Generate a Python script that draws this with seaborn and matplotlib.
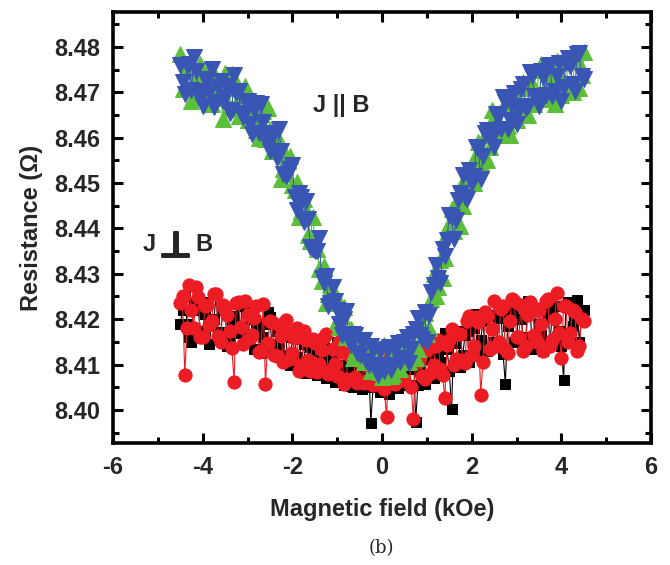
import matplotlib
matplotlib.use("Agg")
import matplotlib.pyplot as plt
import matplotlib.patheffects as pe
import seaborn as sns
import pandas as pd
from matplotlib.ticker import MultipleLocator, FormatStrFormatter

# Field grids (kOe)
field_a = [-4.5, -4.4, -4.3, -4.2, -4.1, -4.0, -3.9, -3.8, -3.7, -3.6,
           -3.5, -3.4, -3.3, -3.2, -3.1, -3.0, -2.9, -2.8, -2.7, -2.6,
           -2.5, -2.4, -2.3, -2.2, -2.1, -2.0, -1.9, -1.8, -1.7, -1.6,
           -1.5, -1.4, -1.3, -1.2, -1.1, -1.0, -0.9, -0.8, -0.7, -0.6,
           -0.5, -0.4, -0.3, -0.2, -0.1, 0.0, 0.1, 0.2, 0.3, 0.4,
           0.5, 0.6, 0.7, 0.8, 0.9, 1.0, 1.1, 1.2, 1.3, 1.4,
           1.5, 1.6, 1.7, 1.8, 1.9, 2.0, 2.1, 2.2, 2.3, 2.4,
           2.5, 2.6, 2.7, 2.8, 2.9, 3.0, 3.1, 3.2, 3.3, 3.4,
           3.5, 3.6, 3.7, 3.8, 3.9, 4.0, 4.1, 4.2, 4.3, 4.4, 4.5]
field_b = [-4.45, -4.35, -4.25, -4.15, -4.05, -3.95, -3.85, -3.75, -3.65, -3.55,
           -3.45, -3.35, -3.25, -3.15, -3.05, -2.95, -2.85, -2.75, -2.65, -2.55,
           -2.45, -2.35, -2.25, -2.15, -2.05, -1.95, -1.85, -1.75, -1.65, -1.55,
           -1.45, -1.35, -1.25, -1.15, -1.05, -0.95, -0.85, -0.75, -0.65, -0.55,
           -0.45, -0.35, -0.25, -0.15, -0.05, 0.05, 0.15, 0.25, 0.35, 0.45,
           0.55, 0.65, 0.75, 0.85, 0.95, 1.05, 1.15, 1.25, 1.35, 1.45,
           1.55, 1.65, 1.75, 1.85, 1.95, 2.05, 2.15, 2.25, 2.35, 2.45,
           2.55, 2.65, 2.75, 2.85, 2.95, 3.05, 3.15, 3.25, 3.35, 3.45,
           3.55, 3.65, 3.75, 3.85, 3.95, 4.05, 4.15, 4.25, 4.35, 4.45]

# J || B, green (up triangles): sweep 1 on field_a, sweep 2 on field_b
green_up = [8.4785, 8.4712, 8.4758, 8.4690, 8.4745, 8.4702, 8.4738, 8.4675, 8.4730, 8.4688,
            8.4742, 8.4665, 8.4710, 8.4648, 8.4695, 8.4640, 8.4672, 8.4618, 8.4652, 8.4598,
            8.4618, 8.4578, 8.4595, 8.4530, 8.4548, 8.4495, 8.4502, 8.4438, 8.4440, 8.4372,
            8.4378, 8.4310, 8.4318, 8.4255, 8.4262, 8.4195, 8.4208, 8.4160, 8.4178, 8.4130,
            8.4148, 8.4105, 8.4135, 8.4088, 8.4115, 8.4072, 8.4110, 8.4075, 8.4125, 8.4090,
            8.4138, 8.4105, 8.4152, 8.4135, 8.4190, 8.4168, 8.4245, 8.4250, 8.4330, 8.4335,
            8.4410, 8.4395, 8.4465, 8.4450, 8.4512, 8.4505, 8.4562, 8.4545, 8.4605, 8.4580,
            8.4645, 8.4605, 8.4668, 8.4625, 8.4688, 8.4640, 8.4710, 8.4655, 8.4728, 8.4675,
            8.4750, 8.4685, 8.4752, 8.4692, 8.4768, 8.4695, 8.4772, 8.4700, 8.4785, 8.4710, 8.4790]
green_down = [8.4708, 8.4754, 8.4680, 8.4736, 8.4762, 8.4698, 8.4674, 8.4740, 8.4706, 8.4642,
              8.4717, 8.4741, 8.4675, 8.4649, 8.4713, 8.4644, 8.4662, 8.4600, 8.4658, 8.4666,
              8.4570, 8.4580, 8.4510, 8.4560, 8.4560, 8.4485, 8.4425, 8.4465, 8.4385, 8.4425,
              8.4355, 8.4285, 8.4235, 8.4275, 8.4255, 8.4182, 8.4226, 8.4160, 8.4114, 8.4158,
              8.4127, 8.4151, 8.4085, 8.4119, 8.4083, 8.4142, 8.4096, 8.4080, 8.4134, 8.4118,
              8.4157, 8.4121, 8.4115, 8.4179, 8.4213, 8.4180, 8.4300, 8.4270, 8.4290, 8.4390,
              8.4443, 8.4419, 8.4405, 8.4511, 8.4517, 8.4500, 8.4590, 8.4550, 8.4550, 8.4660,
              8.4635, 8.4605, 8.4665, 8.4605, 8.4695, 8.4664, 8.4722, 8.4650, 8.4718, 8.4686,
              8.4762, 8.4686, 8.4730, 8.4674, 8.4748, 8.4772, 8.4716, 8.4700, 8.4774, 8.4738]

# J || B, blue (down triangles): sweep 1 on field_b, sweep 2 on field_a
blue_up = [8.4722, 8.4760, 8.4705, 8.4748, 8.4685, 8.4730, 8.4700, 8.4668, 8.4712, 8.4680,
           8.4715, 8.4662, 8.4698, 8.4655, 8.4680, 8.4630, 8.4660, 8.4610, 8.4635, 8.4585,
           8.4605, 8.4555, 8.4570, 8.4515, 8.4530, 8.4470, 8.4478, 8.4415, 8.4420, 8.4355,
           8.4350, 8.4290, 8.4295, 8.4235, 8.4240, 8.4190, 8.4200, 8.4158, 8.4168, 8.4125,
           8.4150, 8.4108, 8.4140, 8.4095, 8.4130, 8.4085, 8.4138, 8.4100, 8.4148, 8.4115,
           8.4160, 8.4135, 8.4178, 8.4165, 8.4215, 8.4210, 8.4275, 8.4290, 8.4355, 8.4375,
           8.4425, 8.4418, 8.4478, 8.4470, 8.4528, 8.4515, 8.4575, 8.4560, 8.4618, 8.4600,
           8.4652, 8.4620, 8.4678, 8.4640, 8.4698, 8.4662, 8.4718, 8.4670, 8.4735, 8.4685,
           8.4748, 8.4695, 8.4760, 8.4702, 8.4765, 8.4712, 8.4775, 8.4718, 8.4785, 8.4735]
blue_down = [8.4760, 8.4696, 8.4762, 8.4778, 8.4704, 8.4670, 8.4726, 8.4752, 8.4678, 8.4724,
             8.4690, 8.4654, 8.4738, 8.4702, 8.4646, 8.4680, 8.4608, 8.4676, 8.4674, 8.4602,
             8.4570, 8.4610, 8.4620, 8.4520, 8.4520, 8.4540, 8.4440, 8.4470, 8.4460, 8.4360,
             8.4350, 8.4380, 8.4280, 8.4230, 8.4270, 8.4220, 8.4164, 8.4218, 8.4142, 8.4166,
             8.4120, 8.4154, 8.4098, 8.4132, 8.4076, 8.4100, 8.4134, 8.4088, 8.4132, 8.4106,
             8.4150, 8.4104, 8.4168, 8.4202, 8.4156, 8.4150, 8.4260, 8.4320, 8.4280, 8.4340,
             8.4430, 8.4376, 8.4462, 8.4518, 8.4464, 8.4500, 8.4580, 8.4510, 8.4610, 8.4610,
             8.4580, 8.4650, 8.4690, 8.4620, 8.4670, 8.4630, 8.4708, 8.4666, 8.4744, 8.4692,
             8.4670, 8.4734, 8.4758, 8.4692, 8.4736, 8.4680, 8.4764, 8.4758, 8.4702, 8.4786, 8.4730]

# J perp B, red (circles): sweep 1 on field_a, sweep 2 on field_b
red_up = [8.4235, 8.4078, 8.4275, 8.4180, 8.4248, 8.4160, 8.4232, 8.4195, 8.4255, 8.4150,
          8.4220, 8.4175, 8.4062, 8.4238, 8.4145, 8.4210, 8.4165, 8.4230, 8.4130, 8.4058,
          8.4195, 8.4120, 8.4188, 8.4105, 8.4170, 8.4125, 8.4180, 8.4098, 8.4155, 8.4085,
          8.4148, 8.4102, 8.4160, 8.4080, 8.4135, 8.4075, 8.4128, 8.4068, 8.4118, 8.4072,
          8.4105, 8.4060, 8.4095, 8.4055, 8.4102, 8.4062, 8.3985, 8.4090, 8.4058, 8.4110,
          8.4065, 8.4118, 8.3980, 8.4105, 8.4075, 8.4132, 8.4082, 8.4140, 8.4090, 8.4026,
          8.4155, 8.4098, 8.4168, 8.4110, 8.4195, 8.4120, 8.4205, 8.4033, 8.4215, 8.4135,
          8.4240, 8.4150, 8.4228, 8.4125, 8.4245, 8.4160, 8.4232, 8.4140, 8.4238, 8.4165,
          8.4220, 8.4130, 8.4245, 8.4155, 8.4258, 8.4115, 8.4230, 8.4170, 8.4215, 8.4140, 8.4195]
red_down = [8.4250, 8.4180, 8.4220, 8.4270, 8.4160, 8.4229, 8.4187, 8.4255, 8.4163, 8.4231,
            8.4209, 8.4137, 8.4235, 8.4183, 8.4241, 8.4158, 8.4203, 8.4128, 8.4233, 8.4148,
            8.4193, 8.4118, 8.4163, 8.4198, 8.4113, 8.4159, 8.4086, 8.4173, 8.4110, 8.4157,
            8.4084, 8.4131, 8.4168, 8.4085, 8.4102, 8.4149, 8.4056, 8.4124, 8.4131, 8.4059,
            8.4106, 8.4064, 8.4131, 8.4069, 8.4106, 8.4046, 8.4119, 8.4081, 8.4134, 8.4066,
            8.4119, 8.4051, 8.4134, 8.4116, 8.4069, 8.4153, 8.4098, 8.4153, 8.4078, 8.4143,
            8.4178, 8.4113, 8.4168, 8.4103, 8.4208, 8.4141, 8.4193, 8.4105, 8.4207, 8.4179,
            8.4141, 8.4223, 8.4135, 8.4197, 8.4239, 8.4160, 8.4130, 8.4210, 8.4230, 8.4150,
            8.4190, 8.4240, 8.4140, 8.4200, 8.4170, 8.4230, 8.4150, 8.4220, 8.4130, 8.4200]

# J perp B, black (squares): sweep 1 on field_b, sweep 2 on field_a
black_up = [8.4220, 8.4190, 8.4150, 8.4235, 8.4175, 8.4212, 8.4145, 8.4200, 8.4168, 8.4225,
            8.4140, 8.4195, 8.4170, 8.4228, 8.4150, 8.4200, 8.4135, 8.4185, 8.4160, 8.4215,
            8.4130, 8.4175, 8.4120, 8.4168, 8.4100, 8.4158, 8.4092, 8.4145, 8.4085, 8.4130,
            8.4078, 8.4122, 8.4070, 8.4110, 8.4062, 8.4100, 8.4055, 8.4095, 8.4050, 8.4088,
            8.4045, 8.4080, 8.3972, 8.4068, 8.4040, 8.4075, 8.4035, 8.4080, 8.4048, 8.4092,
            8.4055, 8.4100, 8.3974, 8.4085, 8.4058, 8.4112, 8.4070, 8.4125, 8.4080, 8.4135,
            8.4002, 8.4148, 8.4095, 8.4165, 8.4105, 8.4180, 8.4118, 8.4195, 8.4130, 8.4210,
            8.4140, 8.4222, 8.4057, 8.4215, 8.4150, 8.4232, 8.4160, 8.4240, 8.4135, 8.4225,
            8.4165, 8.4235, 8.4150, 8.4230, 8.4175, 8.4066, 8.4238, 8.4185, 8.4242, 8.4200]
black_down = [8.4190, 8.4250, 8.4160, 8.4230, 8.4220, 8.4170, 8.4238, 8.4196, 8.4254, 8.4172,
              8.4220, 8.4148, 8.4206, 8.4234, 8.4172, 8.4150, 8.4215, 8.4190, 8.4125, 8.4190,
              8.4205, 8.4130, 8.4145, 8.4180, 8.4105, 8.4160, 8.4117, 8.4174, 8.4081, 8.4138,
              8.4155, 8.4092, 8.4139, 8.4076, 8.4123, 8.4150, 8.4078, 8.4125, 8.4053, 8.4110,
              8.4128, 8.4075, 8.4103, 8.4050, 8.4108, 8.4055, 8.4098, 8.4070, 8.4123, 8.4055,
              8.4118, 8.4090, 8.4133, 8.4055, 8.4118, 8.4130, 8.4075, 8.4150, 8.4105, 8.4170,
              8.4085, 8.4150, 8.4175, 8.4120, 8.4175, 8.4120, 8.4212, 8.4154, 8.4136, 8.4208,
              8.4150, 8.4202, 8.4124, 8.4186, 8.4218, 8.4150, 8.4200, 8.4140, 8.4230, 8.4160,
              8.4190, 8.4130, 8.4210, 8.4220, 8.4160, 8.4140, 8.4230, 8.4170, 8.4210, 8.4150, 8.4220]

sns.set_style("ticks")
plt.rcParams['font.family'] = ['Liberation Sans', 'DejaVu Sans']
plt.rcParams['font.weight'] = 'bold'
plt.rcParams['axes.unicode_minus'] = False

fig = plt.figure(figsize=(6.7, 5.65), dpi=100)
ax = fig.add_axes([0.1687, 0.2159, 0.803, 0.7628])

series = [
    (field_b, black_up, field_a, black_down, 's', 'black', 7),
    (field_a, red_up, field_b, red_down, 'o', '#ec1c24', 9.5),
    (field_a, green_up, field_b, green_down, '^', '#5cbf3a', 11),
    (field_b, blue_up, field_a, blue_down, 'v', '#3a56b4', 11),
]
for x1, y1, x2, y2, mk, col, ms in series:
    df = pd.DataFrame({'field': x1 + x2, 'res': y1 + y2})
    sns.lineplot(data=df, x='field', y='res', ax=ax, color=col, linewidth=0.8,
                 marker=mk, markersize=ms, markeredgecolor=col, estimator=None)

ax.set_xlim(-6, 6)
ax.set_ylim(8.3927, 8.4877)
ax.xaxis.set_major_locator(MultipleLocator(2))
ax.xaxis.set_minor_locator(MultipleLocator(1))
ax.yaxis.set_major_locator(MultipleLocator(0.01))
ax.yaxis.set_minor_locator(MultipleLocator(0.005))
ax.yaxis.set_major_formatter(FormatStrFormatter('%.2f'))

ax.tick_params(which='both', direction='in', top=True, right=True, width=2.2,
               labelsize=17, color='black')
ax.tick_params(which='major', length=7, pad=9)
ax.tick_params(which='minor', length=4)
for lab in ax.get_xticklabels() + ax.get_yticklabels():
    lab.set_fontweight('bold')
for sp in ax.spines.values():
    sp.set_visible(True)
    sp.set_linewidth(2.6)
    sp.set_color('black')

ax.set_xlabel('Magnetic field (kOe)', fontsize=17, fontweight='bold', labelpad=14)
ax.set_ylabel('Resistance (Ω)', fontsize=17, fontweight='bold', labelpad=8)

ax.text(-0.92, 8.4672, 'J || B', fontsize=17, fontweight='bold', ha='center', va='center')
ax.text(-5.20, 8.4364, 'J', fontsize=17, fontweight='bold', ha='center', va='center')
ax.text(-4.60, 8.4358, '⊥', fontsize=26, fontweight='bold', ha='center', va='center',
        family=['DejaVu Sans'],
        path_effects=[pe.withStroke(linewidth=1.2, foreground='black')])
ax.text(-3.98, 8.4364, 'B', fontsize=17, fontweight='bold', ha='center', va='center')

fig.text(0.569, 0.030, '(b)', fontsize=13, fontweight='normal', ha='center', va='center',
         family='DejaVu Serif')

fig.savefig('out.png', dpi=100)
